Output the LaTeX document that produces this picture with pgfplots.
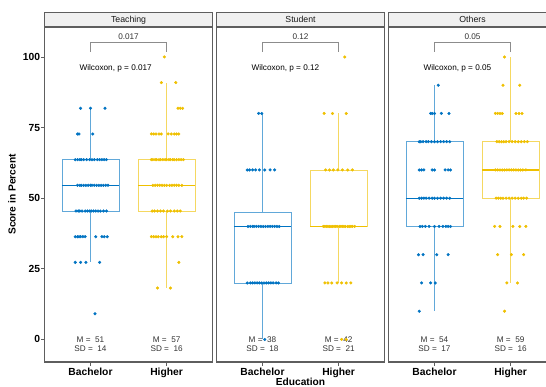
\documentclass[border=0pt]{standalone}
\usepackage{fontspec}
\setmainfont{Liberation Sans}
\usepackage{pgfplots}
\pgfplotsset{compat=1.18}
\usepgfplotslibrary{statistics}

\definecolor{jcoblue}{HTML}{0073C2}
\definecolor{jcoyellow}{HTML}{EFC000}
\definecolor{panelframe}{HTML}{5E5E5E}
\definecolor{stripfill}{HTML}{F0F0F0}
\definecolor{annot}{HTML}{333333}

\newcommand{\ticklabelfont}{\fontsize{10.3}{12}\selectfont\bfseries}
\newcommand{\smallfont}{\fontsize{8.2}{9.6}\selectfont}

\tikzset{bracket/.style={draw=black!45, line width=0.8pt}}

\pgfplotsset{
  facet/.style={
    width=167.5pt, height=335pt, scale only axis,
    anchor=north west,
    xmin=0.4, xmax=2.6, ymin=-8, ymax=110.6,
    xtick={1,2}, xticklabels={Bachelor,Higher},
    xtick pos=lower, ytick pos=left,
    tick align=outside, major tick length=3.6pt,
    tick style={color=panelframe, line width=0.6pt},
    axis line style={color=panelframe, line width=1.1pt},
    ticklabel style={font=\ticklabelfont, text=black},
    xticklabel style={yshift=1pt},
    yticklabel style={xshift=2.5pt},
    clip=false,
  },
  % box outline in a lighter tint, median in the full colour
  bx/.style n args={2}{
    draw=#1!62!white, line width=0.65pt, solid, mark=none,
    boxplot prepared={#2, draw direction=y, box extend=0.75, whisker extend=0,
      every median/.style={draw=#1, line width=1.3pt}},
  },
  pts/.style={only marks, mark=*, mark size=1.35pt, mark options={draw=none}},
}

% M/SD summary under each box
\newcommand{\msd}[3]{\node[align=center, font=\smallfont, text=annot] at (axis cs:#1,-1.7) {M =~~#2\\SD =~~#3};}
% comparison bracket and test annotation
\newcommand{\ptest}[1]{%
  \draw[bracket] (axis cs:1,101.9) -- (axis cs:1,105.2) -- (axis cs:2,105.2) -- (axis cs:2,101.9);
  \node[font=\smallfont, text=annot] at (axis cs:1.5,107.3) {#1};
  \node[anchor=west, font=\smallfont, text=black] at (axis cs:0.81,95.9) {Wilcoxon, p = #1};}

\begin{document}
\begin{tikzpicture}
\useasboundingbox (0,0) rectangle (546pt,-387pt);

% ---------------- Teaching ----------------
\begin{axis}[facet, at={(44.8pt,-27pt)},
  ytick={0,25,50,75,100}, yticklabels={0,25,50,75,100}]
\addplot[bx={jcoblue}{lower whisker=27.27, lower quartile=45.45, median=54.55,
  upper quartile=63.64, upper whisker=81.82, draw position=1}] coordinates {};
\addplot[bx={jcoyellow}{lower whisker=18.18, lower quartile=45.45, median=54.55,
  upper quartile=63.64, upper whisker=90.91, draw position=2}] coordinates {};
\addplot[pts, jcoblue] coordinates {
 (0.87,81.82) (1.00,81.82) (1.19,81.82)
 (0.83,72.73) (0.85,72.73) (1.03,72.73)
 (0.80,63.64) (0.83,63.64) (0.86,63.64) (0.88,63.64) (0.91,63.64) (0.95,63.64) (0.99,63.64)
 (1.02,63.64) (1.05,63.64) (1.09,63.64) (1.12,63.64) (1.15,63.64) (1.18,63.64) (1.21,63.64)
 (0.83,54.55) (0.86,54.55) (0.88,54.55) (0.91,54.55) (0.94,54.55) (0.97,54.55) (1.00,54.55) (1.02,54.55)
 (1.05,54.55) (1.08,54.55) (1.11,54.55) (1.14,54.55) (1.17,54.55) (1.20,54.55) (1.23,54.55)
 (0.81,45.45) (0.84,45.45) (0.86,45.45) (0.89,45.45) (0.93,45.45) (0.96,45.45) (0.99,45.45)
 (1.01,45.45) (1.04,45.45) (1.07,45.45) (1.10,45.45) (1.13,45.45) (1.17,45.45) (1.21,45.45)
 (0.80,36.36) (0.83,36.36) (0.85,36.36) (0.87,36.36) (0.90,36.36) (0.93,36.36) (1.07,36.36)
 (1.15,36.36) (1.18,36.36) (1.22,36.36)
 (0.80,27.27) (0.87,27.27) (0.94,27.27) (1.12,27.27)
 (1.06,9.09)
};
\addplot[pts, jcoyellow] coordinates {
 (1.97,100)
 (1.93,90.91) (2.12,90.91)
 (2.15,81.82) (2.18,81.82) (2.21,81.82)
 (1.80,72.73) (1.83,72.73) (1.86,72.73) (1.90,72.73) (1.93,72.73) (2.02,72.73) (2.06,72.73)
 (2.10,72.73) (2.13,72.73) (2.16,72.73)
 (1.80,63.64) (1.82,63.64) (1.85,63.64) (1.87,63.64) (1.90,63.64) (1.92,63.64) (1.95,63.64)
 (1.98,63.64) (2.00,63.64) (2.03,63.64) (2.05,63.64) (2.08,63.64) (2.10,63.64) (2.13,63.64)
 (2.16,63.64) (2.19,63.64) (2.22,63.64)
 (1.82,54.55) (1.85,54.55) (1.88,54.55) (1.91,54.55) (1.94,54.55) (1.97,54.55) (2.00,54.55)
 (2.04,54.55) (2.07,54.55) (2.10,54.55) (2.13,54.55) (2.16,54.55) (2.20,54.55)
 (1.81,45.45) (1.84,45.45) (1.88,45.45) (1.92,45.45) (1.96,45.45) (2.01,45.45) (2.05,45.45)
 (2.10,45.45) (2.14,45.45) (2.18,45.45)
 (1.80,36.36) (1.83,36.36) (1.86,36.36) (1.89,36.36) (1.93,36.36) (1.96,36.36) (2.00,36.36)
 (2.08,36.36) (2.15,36.36) (2.20,36.36)
 (2.16,27.27)
 (1.88,18.18) (2.05,18.18)
};
\ptest{0.017}
\msd{1}{51}{14}
\msd{2}{57}{16}
\end{axis}

% ---------------- Student ----------------
\begin{axis}[facet, at={(216.8pt,-27pt)}, ytick=\empty]
\addplot[bx={jcoblue}{lower whisker=0, lower quartile=20, median=40,
  upper quartile=45, upper whisker=80, draw position=1}] coordinates {};
\addplot[bx={jcoyellow}{lower whisker=20, lower quartile=40, median=40,
  upper quartile=60, upper whisker=80, draw position=2}] coordinates {};
\addplot[pts, jcoblue] coordinates {
 (0.95,80) (0.99,80)
 (0.80,60) (0.83,60) (0.87,60) (0.91,60) (0.96,60) (1.03,60) (1.10,60) (1.16,60)
 (0.81,40) (0.84,40) (0.87,40) (0.89,40) (0.92,40) (0.95,40) (0.98,40) (1.01,40)
 (1.04,40) (1.07,40) (1.10,40) (1.13,40) (1.16,40) (1.19,40) (1.22,40)
 (0.80,20) (0.84,20) (0.87,20) (0.90,20) (0.93,20) (0.96,20) (0.99,20) (1.02,20)
 (1.05,20) (1.08,20) (1.11,20) (1.14,20) (1.18,20) (1.21,20)
 (1.03,0)
};
\addplot[pts, jcoyellow] coordinates {
 (2.08,100)
 (1.81,80) (1.92,80) (2.10,80)
 (1.83,60) (1.88,60) (1.93,60) (1.99,60) (2.05,60) (2.12,60) (2.18,60)
 (1.80,40) (1.82,40) (1.84,40) (1.86,40) (1.88,40) (1.90,40) (1.92,40) (1.94,40) (1.96,40) (1.98,40)
 (2.01,40) (2.03,40) (2.05,40) (2.07,40) (2.09,40) (2.12,40) (2.14,40) (2.16,40) (2.18,40) (2.21,40)
 (1.82,20) (1.86,20) (1.91,20) (1.98,20) (2.04,20) (2.10,20) (2.16,20)
 (2.04,0) (2.10,0)
};
\ptest{0.12}
\msd{1}{38}{18}
\msd{2}{42}{21}
\end{axis}

% ---------------- Others ----------------
\begin{axis}[facet, at={(388.8pt,-27pt)}, ytick=\empty]
\addplot[bx={jcoblue}{lower whisker=10, lower quartile=40, median=50,
  upper quartile=70, upper whisker=90, draw position=1}] coordinates {};
\addplot[bx={jcoyellow}{lower whisker=20, lower quartile=50, median=60,
  upper quartile=70, upper whisker=100, draw position=2}] coordinates {};
\addplot[pts, jcoblue] coordinates {
 (1.05,90)
 (0.95,80) (0.97,80) (1.00,80) (1.09,80) (1.19,80)
 (0.80,70) (0.82,70) (0.85,70) (0.89,70) (0.92,70) (0.96,70) (1.00,70) (1.04,70) (1.08,70)
 (1.12,70) (1.16,70) (1.20,70)
 (0.80,60) (0.83,60) (0.86,60) (0.97,60) (1.00,60) (1.14,60) (1.18,60) (1.21,60)
 (0.80,50) (0.83,50) (0.86,50) (0.89,50) (0.93,50) (0.97,50) (1.00,50) (1.04,50) (1.08,50)
 (1.12,50) (1.16,50) (1.20,50)
 (0.81,40) (0.84,40) (0.88,40) (0.93,40) (1.00,40) (1.06,40) (1.11,40) (1.15,40) (1.18,40) (1.21,40)
 (0.79,30) (0.85,30) (1.03,30) (1.18,30)
 (0.83,20) (0.95,20) (1.01,20)
 (0.80,10)
};
\addplot[pts, jcoyellow] coordinates {
 (1.92,100)
 (1.90,90) (2.12,90)
 (1.80,80) (1.83,80) (1.86,80) (1.89,80) (2.07,80) (2.11,80) (2.15,80)
 (1.82,70) (1.85,70) (1.88,70) (1.91,70) (1.94,70) (1.98,70) (2.02,70) (2.06,70) (2.10,70)
 (2.14,70) (2.18,70) (2.22,70)
 (1.80,60) (1.83,60) (1.86,60) (1.89,60) (1.92,60) (1.95,60) (1.98,60) (2.01,60) (2.04,60)
 (2.07,60) (2.10,60) (2.13,60) (2.16,60) (2.20,60)
 (1.81,50) (1.84,50) (1.87,50) (1.90,50) (1.94,50) (1.98,50) (2.02,50) (2.06,50) (2.10,50)
 (2.14,50) (2.17,50) (2.21,50)
 (1.79,40) (1.86,40) (2.03,40) (2.12,40) (2.20,40)
 (1.83,30) (2.01,30) (2.17,30)
 (1.95,20) (2.09,20)
 (1.92,10)
};
\ptest{0.05}
\msd{1}{54}{17}
\msd{2}{59}{16}
\end{axis}

% facet strips
\foreach \L/\name in {44.8/Teaching, 216.8/Student, 388.8/Others}{
  \draw[fill=stripfill, draw=panelframe, line width=1.1pt] (\L pt,-12.7pt) rectangle (\L pt+167.5pt,-27pt);
  \node[font=\fontsize{8.75}{10}\selectfont, text=black!90] at (\L pt+83.75pt,-19.85pt) {\name};
}

% axis titles
\node[rotate=90, font=\fontsize{10.2}{12}\selectfont\bfseries] at (12pt,-194.5pt) {Score in Percent};
\node[font=\fontsize{10.2}{12}\selectfont\bfseries] at (300.5pt,-382pt) {Education};
\end{tikzpicture}
\end{document}
